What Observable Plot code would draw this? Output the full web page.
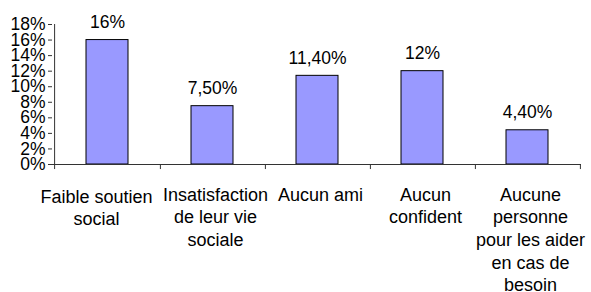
<!DOCTYPE html>
<html>
<head>
<meta charset="utf-8">
<script src="https://cdn.jsdelivr.net/npm/d3@7"></script>
<script src="https://cdn.jsdelivr.net/npm/@observablehq/plot@0.6"></script>
<style>
  html, body { margin: 0; padding: 0; background: #fff; }
  #chart { width: 591px; height: 292px; }
</style>
</head>
<body>
<div id="chart"></div>
<script>
const categories = [
  "Faible soutien\nsocial",
  "Insatisfaction\nde leur vie\nsociale",
  "Aucun ami",
  "Aucun\nconfident",
  "Aucune\npersonne\npour les aider\nen cas de\nbesoin"
];
const values = [16, 7.5, 11.4, 12, 4.4];
const valueLabels = ["16%", "7,50%", "11,40%", "12%", "4,40%"];
const yTicks = [0, 2, 4, 6, 8, 10, 12, 14, 16, 18];

const data = categories.map((c, i) => ({cat: c, value: values[i], label: valueLabels[i]}));

const W = 591, H = 292;
const mL = 52, mR = 10, mT = 24, mB = 128;
const cell = (W - mL - mR) / categories.length;
const font = "Arial, 'Liberation Sans', sans-serif";
const catText = {x: d => d, y: () => 0, text: d => d, dy: 20, lineAnchor: "top",
  lineHeight: 1.26, fontSize: 18, fontFamily: font, fill: "#000"};

const chart = Plot.plot({
  width: W,
  height: H,
  marginLeft: mL,
  marginRight: mR,
  marginTop: mT,
  marginBottom: mB,
  style: {background: "#fff", fontFamily: font, color: "#000"},
  x: {domain: categories, paddingInner: 0.603, paddingOuter: 0.3015, axis: null},
  y: {domain: [0, 18], axis: null},
  marks: [
    Plot.barY(data, {x: "cat", y: "value", fill: "#9999FF", stroke: "#000", strokeWidth: 1}),
    Plot.ruleY([0], {stroke: "#333"}),
    Plot.ruleX([categories[0]], {y1: -0.65, y2: 18, dx: -cell / 2, stroke: "#333"}),
    Plot.ruleX(categories, {y1: 0, y2: -0.65, dx: cell / 2, stroke: "#333"}),
    Plot.axisY({ticks: yTicks, tickFormat: d => d + "%", tickSize: 4, tickPadding: 3,
      fontSize: 17.5, fontFamily: font, stroke: "#333", fill: "#000", label: null}),
    Plot.text(categories.slice(0, 1), {...catText, dx: -11, dy: 22}),
    Plot.text(categories.slice(1), {...catText, dx: 3}),
    Plot.text(data, {x: "cat", y: "value", text: "label", dy: -17.5, lineAnchor: "middle",
      fontSize: 17.5, fontFamily: font, fill: "#000"})
  ]
});
document.getElementById("chart").appendChild(chart);
</script>
</body>
</html>
